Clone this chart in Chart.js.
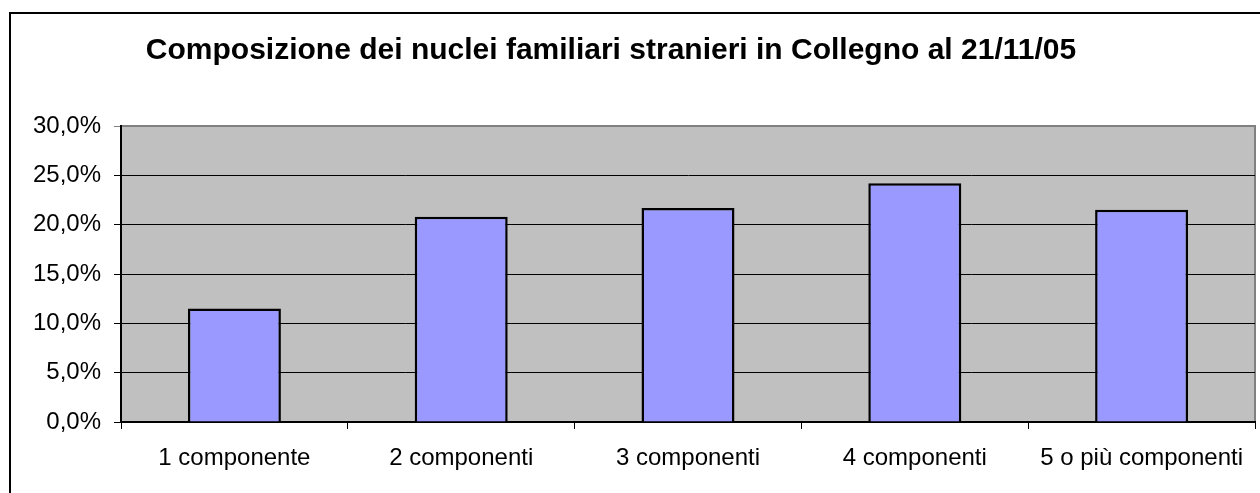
<!DOCTYPE html>
<html lang="it">
<head>
    <meta charset="UTF-8">
    <script src="https://cdn.jsdelivr.net/npm/chart.js"></script>
    <title>Composizione dei nuclei familiari stranieri</title>
    <style>
        body { margin: 0; background: #fff; }
    </style>
</head>
<body>
    <canvas id="grafico" width="1260" height="493"></canvas>
<script>
    const titolo = 'Composizione dei nuclei familiari stranieri in Collegno al 21/11/05';
    const categorie = ['1 componente', '2 componenti', '3 componenti', '4 componenti', '5 o più componenti'];
    const percentuali = [11.5, 20.8, 21.7, 24.2, 21.5];
    const tickY = [0, 5, 10, 15, 20, 25, 30];

    // sfondo grigio dell'area del grafico, cornice esterna e titolo
    const decorazioni = {
        id: 'decorazioni',
        beforeDraw(chart) {
            const ctx = chart.ctx;
            const a = chart.chartArea;
            ctx.save();
            ctx.fillStyle = '#fff';
            ctx.fillRect(0, 0, chart.width, chart.height);
            ctx.fillStyle = '#C0C0C0';
            ctx.fillRect(a.left, a.top, a.right - a.left, a.bottom - a.top);
            ctx.strokeStyle = '#808080';
            ctx.lineWidth = 2;
            ctx.strokeRect(a.left, a.top, a.right - a.left, a.bottom - a.top);
            ctx.restore();
        },
        afterDraw(chart) {
            const ctx = chart.ctx;
            ctx.save();
            ctx.strokeStyle = '#000';
            ctx.lineWidth = 2;
            ctx.beginPath();
            ctx.moveTo(10, chart.height + 5);
            ctx.lineTo(10, 13);
            ctx.lineTo(chart.width + 5, 13);
            ctx.stroke();
            ctx.fillStyle = '#000';
            ctx.font = 'bold 30px "Liberation Sans", Arial, sans-serif';
            ctx.textAlign = 'center';
            ctx.textBaseline = 'middle';
            ctx.fillText(titolo, 611, 51);
            ctx.restore();
        }
    };

    const ctx = document.getElementById('grafico').getContext('2d');
    new Chart(ctx, {
        type: 'bar',
        data: {
            labels: categorie,
            datasets: [{
                data: percentuali,
                backgroundColor: '#9999FF',
                borderColor: '#000',
                borderWidth: 2.5,
                barPercentage: 0.41,
                categoryPercentage: 1
            }]
        },
        options: {
            responsive: false,
            animation: false,
            layout: { padding: { left: 0, right: 5, top: 126, bottom: 0 } },
            plugins: {
                legend: { display: false },
                title: { display: false },
                tooltip: { enabled: false }
            },
            scales: {
                x: {
                    afterFit: s => { s.height = 71; },
                    grid: {
                        drawOnChartArea: false,
                        color: '#000',
                        tickLength: 7,
                        offset: true
                    },
                    border: { color: '#000', width: 2 },
                    ticks: {
                        color: '#000',
                        padding: 15,
                        maxRotation: 0,
                        font: { family: '"Liberation Sans", Arial, sans-serif', size: 24 }
                    }
                },
                y: {
                    min: 0,
                    max: 30,
                    afterFit: s => { s.width = 121; },
                    afterBuildTicks: s => { s.ticks = tickY.map(v => ({ value: v })); },
                    grid: {
                        color: c => c.tick && c.tick.value === 30 ? '#808080' : '#000',
                        tickLength: 7,
                        lineWidth: 1
                    },
                    border: { color: '#000', width: 2 },
                    ticks: {
                        color: '#000',
                        padding: 13,
                        callback: v => v.toFixed(1).replace('.', ',') + '%',
                        font: { family: '"Liberation Sans", Arial, sans-serif', size: 24 }
                    }
                }
            }
        },
        plugins: [decorazioni]
    });
</script>
</body>
</html>
